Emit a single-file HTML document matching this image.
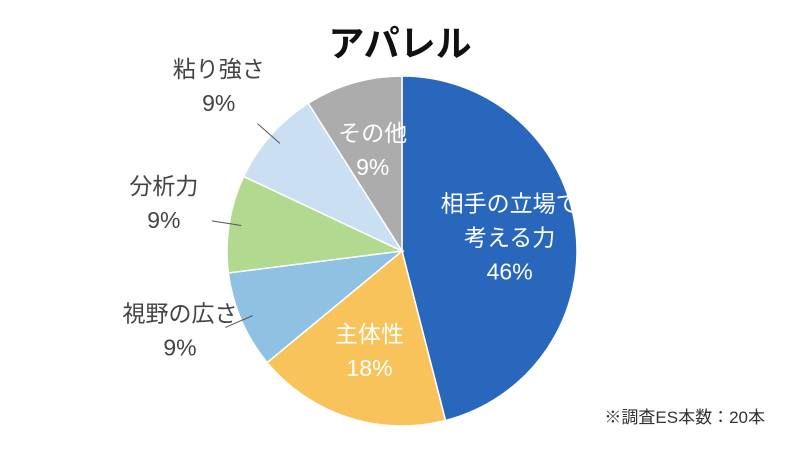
<!DOCTYPE html>
<html><head><meta charset="utf-8"><style>
body{margin:0;background:#fff;}
svg{display:block;font-family:"Liberation Sans","Noto Sans CJK JP",sans-serif;}
</style></head><body>
<svg width="800" height="450" viewBox="0 0 800 450">
<text x="400" y="56" text-anchor="middle" font-size="36" font-weight="bold" fill="#111">アパレル</text>
<g id="slices"></g>
<g id="labels"></g>
<text x="765" y="423" text-anchor="end" font-size="17" fill="#333">※調査ES本数：20本</text>
</svg>
<script>
const categories=["相手の立場で考える力","主体性","視野の広さ","分析力","粘り強さ","その他"];
const values=[46,18,9,9,9,9];
const colors=["#2967bd","#f9c35c","#8fc1e2","#b1d990","#cadff1","#acacac"];
const labelLines=[["相手の立場で","考える力"],["主体性"],["視野の広さ"],["分析力"],["粘り強さ"],["その他"]];
const inside=[true,true,false,false,false,true];
const cx=402,cy=251,r=175;
const ns="http://www.w3.org/2000/svg";
const gS=document.getElementById("slices"),gL=document.getElementById("labels");
const total=values.reduce((a,b)=>a+b,0);
function pt(a,rr){return [cx+rr*Math.sin(a),cy-rr*Math.cos(a)];}
let acc=0;
values.forEach((v,i)=>{
  const a0=acc/total*2*Math.PI;acc+=v;const a1=acc/total*2*Math.PI;
  const p0=pt(a0,r),p1=pt(a1,r);const large=(a1-a0)>Math.PI?1:0;
  const p=document.createElementNS(ns,"path");
  p.setAttribute("d",`M${cx},${cy}L${p0[0]},${p0[1]}A${r},${r} 0 ${large} 1 ${p1[0]},${p1[1]}Z`);
  p.setAttribute("fill",colors[i]);p.setAttribute("stroke","#fff");p.setAttribute("stroke-width","1.5");
  
  
  gS.appendChild(p);
  const am=(a0+a1)/2;
  const lines=labelLines[i].concat([v+"%"]);
  let tx,ty,anchor="middle",fill;
  if(inside[i]){const c=pt(am,r*(i===0?0.62:0.6));tx=c[0];ty=c[1];fill="#fff";}
  else{
    const e0=pt(am,r*0.93),e1=pt(am,r*1.1);
    const l=document.createElementNS(ns,"line");
    l.setAttribute("x1",e0[0]);l.setAttribute("y1",e0[1]);l.setAttribute("x2",e1[0]);l.setAttribute("y2",e1[1]);
    l.setAttribute("stroke","#555");l.setAttribute("stroke-width","1");
    
    
    gL.appendChild(l);
    const c=pt(am,r*1.32);tx=c[0]-10;ty=c[1]-12;fill="#444";
  }
  const t=document.createElementNS(ns,"text");
  t.setAttribute("x",tx);t.setAttribute("text-anchor",anchor);t.setAttribute("font-size","23");t.setAttribute("fill",fill);
  
  
  const lh=34;const start=ty-(lines.length-1)*lh/2+8;
  lines.forEach((s,k)=>{const sp=document.createElementNS(ns,"tspan");sp.setAttribute("x",tx);sp.setAttribute("y",start+k*lh);sp.textContent=s;t.appendChild(sp);});
  gL.appendChild(t);
});
</script>
</body></html>
